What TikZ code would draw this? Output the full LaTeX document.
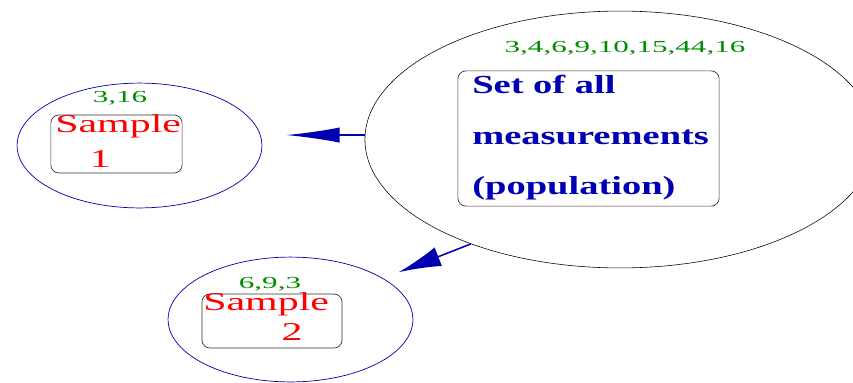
\documentclass[tikz,border=0pt]{standalone}
\usepackage{fontspec}
\setmainfont{Liberation Serif}
\usetikzlibrary{shapes.geometric,arrows.meta}
\definecolor{popblue}{RGB}{0,0,178}
\definecolor{numgreen}{RGB}{0,140,0}
\newcommand{\widetext}[2]{\scalebox{#1}[1]{#2}}
\begin{document}
\begin{tikzpicture}[x=0.025cm, y=-0.025cm,
  bigset/.style={draw, ellipse, line width=0.4pt, inner sep=0, minimum width=12.75cm, minimum height=6.42cm},
  smallset/.style={draw=popblue, ellipse, line width=0.5pt, inner sep=0, minimum width=6.12cm, minimum height=3.12cm},
  box/.style={draw=black!80, rounded corners=0.2cm, line width=0.5pt, inner sep=0},
  nums/.style={text=numgreen, font=\fontsize{12}{14}\selectfont, inner sep=0, anchor=base},
  poptext/.style={text=popblue, font=\fontsize{18.5}{22}\selectfont\bfseries, inner sep=0, anchor=base west},
  samptext/.style={text=red, font=\fontsize{18.3}{22}\selectfont, inner sep=0},
  arr/.style={-{Latex[length=1.33cm, width=0.38cm]}, draw=popblue, fill=popblue, line width=1.1pt}
]
\clip (0,0) rectangle (853,382);

\node[bigset] (pop) at (620,139.5) {};
\node[box, minimum width=6.53cm, minimum height=3.38cm] (popbox) at (588.5,138.5) {};
\node[nums] (popnums) at (625,52) {\widetext{1.84}{3,4,6,9,10,15,44,16}};
\node[poptext] (line1) at (472,93) {\widetext{1.48}{Set of all}};
\node[poptext] (line2) at (472,144) {\widetext{1.48}{measurements}};
\node[poptext] (line3) at (472,194) {\widetext{1.48}{(population)}};

\node[smallset] (s1) at (139.5,145.5) {};
\node[box, minimum width=3.28cm, minimum height=1.45cm] (s1box) at (116.5,144) {};
\node[nums] (s1nums) at (120,102) {\widetext{1.84}{3,16}};
\node[samptext, anchor=base west] (s1word) at (55,132) {\widetext{1.63}{Sample}};
\node[samptext, anchor=base] (s1num) at (100,167) {\widetext{1.63}{1}};

\node[smallset] (s2) at (290.5,319.5) {};
\node[box, minimum width=3.5cm, minimum height=1.35cm] (s2box) at (272,321) {};
\node[nums] (s2nums) at (270,288) {\widetext{1.84}{6,9,3}};
\node[samptext, anchor=base west] (s2word) at (203,310) {\widetext{1.63}{Sample}};
\node[samptext, anchor=base] (s2num) at (292,340) {\widetext{1.63}{2}};

\draw[arr, shorten >=0.6cm] (pop.179) -- (s1.east |- pop.179);
\draw[arr, arrows={-{Latex[length=1.06cm, width=0.5cm]}}, shorten >=0.42cm] (pop.215) -- (s2.24);
\end{tikzpicture}
\end{document}
